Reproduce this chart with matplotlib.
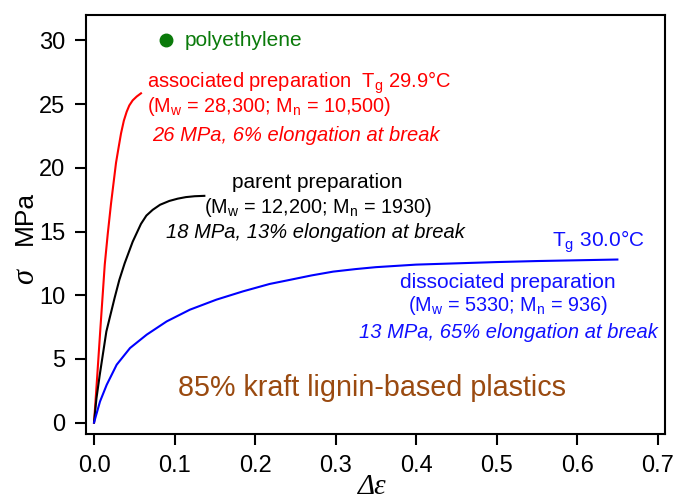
import matplotlib
matplotlib.use('Agg')
import matplotlib.pyplot as plt

plt.rcParams['font.family'] = ['Liberation Sans', 'DejaVu Sans']
plt.rcParams['mathtext.fontset'] = 'custom'
plt.rcParams['mathtext.rm'] = 'Liberation Sans'
plt.rcParams['mathtext.it'] = 'Liberation Sans:italic'

# stress-strain curves (strain, stress MPa)
assoc_eps = [0, 0.004, 0.008, 0.0133, 0.017, 0.0211, 0.0273, 0.0305, 0.0335, 0.037,
             0.0405, 0.0438, 0.048, 0.053, 0.0583]
assoc_sig = [0, 3.7, 7.5, 12.4, 14.8, 17.2, 20.4, 21.6, 22.7, 23.7,
             24.4, 24.9, 25.3, 25.6, 25.85]

parent_eps = [0, 0.003, 0.0071, 0.0153, 0.0256, 0.0314, 0.038, 0.048, 0.0583, 0.065,
              0.0728, 0.082, 0.0935, 0.104, 0.114, 0.125, 0.137]
parent_sig = [0, 1.9, 3.75, 7.15, 9.8, 11.2, 12.5, 14.2, 15.6, 16.25,
              16.7, 17.1, 17.4, 17.58, 17.7, 17.77, 17.8]

dissoc_eps = [0, 0.0074, 0.0157, 0.0281, 0.0447, 0.0654, 0.0902, 0.119, 0.152,
              0.185, 0.218, 0.243, 0.27, 0.297, 0.325, 0.35, 0.40, 0.45, 0.50, 0.55, 0.60, 0.65]
dissoc_sig = [0, 1.65, 2.96, 4.54, 5.85, 6.9, 7.94, 8.86, 9.65,
              10.3, 10.88, 11.2, 11.55, 11.85, 12.05, 12.2, 12.4, 12.5, 12.6, 12.68, 12.74, 12.8]

pe_point = (0.0894, 30.0)

xticks = [0.0, 0.1, 0.2, 0.3, 0.4, 0.5, 0.6, 0.7]
yticks = [0, 5, 10, 15, 20, 25, 30]

fig = plt.figure(figsize=(6.75, 5), dpi=100)
ax = fig.add_axes([0.1274, 0.132, 0.8576, 0.838])

ax.plot(assoc_eps, assoc_sig, color='#ff0000', lw=1.5)
ax.plot(parent_eps, parent_sig, color='black', lw=1.5)
ax.plot(dissoc_eps, dissoc_sig, color='#0000ff', lw=1.5)
ax.plot([pe_point[0]], [pe_point[1]], 'o', color='#0a7a0a', ms=9)

ax.set_xlim(-0.01, 0.709)
ax.set_ylim(-0.9, 32.0)
ax.set_xticks(xticks)
ax.set_xticklabels(['%.1f' % v for v in xticks])
ax.set_yticks(yticks)
ax.tick_params(labelsize=17, length=8, width=1.5, pad=7, direction='out')
for s in ax.spines.values():
    s.set_linewidth(1.5)

red = '#ff0000'
blue = '#1010ff'
ax.text(0.113, 30.0, 'polyethylene', color='#0a7a0a', fontsize=15, va='center', ha='left')

ax.text(0.0658, 26.7, r'associated preparation  T$_\mathregular{g}$ 29.9°C', color=red,
        fontsize=14.5, va='center', ha='left')
ax.text(0.0658, 24.8, r'(M$_\mathregular{w}$ = 28,300; M$_\mathregular{n}$ = 10,500)', color=red,
        fontsize=14.3, va='center', ha='left')
ax.text(0.072, 22.5, '26 MPa, 6% elongation at break', color=red, style='italic',
        fontsize=14.5, va='center', ha='left')

ax.text(0.277, 18.85, 'parent preparation', color='black', fontsize=15, va='center', ha='center')
ax.text(0.278, 16.9, r'(M$_\mathregular{w}$ = 12,200; M$_\mathregular{n}$ = 1930)', color='black',
        fontsize=14.3, va='center', ha='center')
ax.text(0.275, 14.9, '18 MPa, 13% elongation at break', color='black', style='italic',
        fontsize=14.5, va='center', ha='center')

ax.text(0.684, 14.2, r'T$_\mathregular{g}$ 30.0°C', color=blue, fontsize=15, va='center', ha='right')
ax.text(0.514, 11.0, 'dissociated preparation', color=blue, fontsize=15, va='center', ha='center')
ax.text(0.514, 9.17, r'(M$_\mathregular{w}$ = 5330; M$_\mathregular{n}$ = 936)', color=blue,
        fontsize=14.3, va='center', ha='center')
ax.text(0.515, 7.1, '13 MPa, 65% elongation at break', color=blue, style='italic',
        fontsize=14.5, va='center', ha='center')

ax.text(0.345, 2.73, '85% kraft lignin-based plastics', color='#9a4a10', fontsize=20.7,
        va='center', ha='center')

# axis labels
ax.text(-0.105, 0.375, 'σ', transform=ax.transAxes, rotation=90, fontsize=22,
        family='Liberation Serif', style='italic', va='center', ha='center')
ax.text(-0.105, 0.515, 'MPa', transform=ax.transAxes, rotation=90, fontsize=19,
        va='center', ha='center')
ax.text(0.494, -0.157, 'Δε', transform=ax.transAxes, fontsize=21,
        family='Liberation Serif', style='italic', va='bottom', ha='center')

fig.savefig('out.png', dpi=100)
